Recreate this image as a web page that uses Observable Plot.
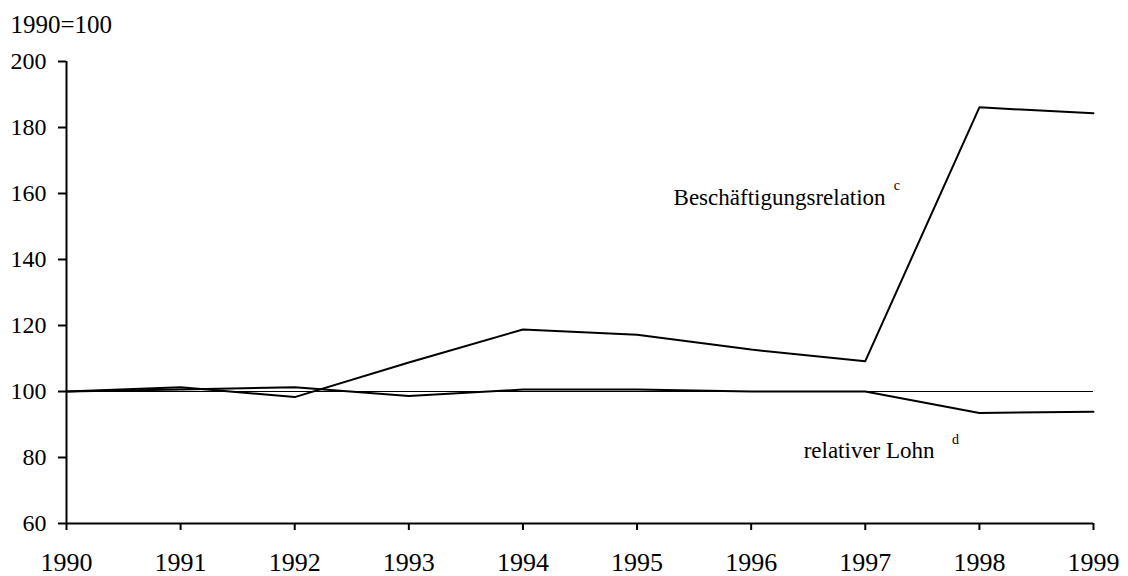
<!DOCTYPE html>
<html><head><meta charset="utf-8">
<script src="https://cdn.jsdelivr.net/npm/d3@7"></script>
<script src="https://cdn.jsdelivr.net/npm/@observablehq/plot@0.6"></script>
<style>body{margin:0;background:#fff;font-family:"Liberation Serif",serif}</style>
</head><body><div id="chart"></div>
<script>
const years = [1990,1991,1992,1993,1994,1995,1996,1997,1998,1999];
const beschaeftigung = [100,101.3,98.3,108.8,118.8,117.2,112.7,109.2,186.1,184.3];
const lohn = [100,100.6,101.3,98.6,100.6,100.6,100,100,93.5,93.9];
const yTicks = [60,80,100,120,140,160,180,200];
const seriesLabels = [
  {x:1995.32, y:156.4, text:"Beschäftigungsrelation"},
  {x:1996.46, y:79.7, text:"relativer Lohn"}
];
const superscripts = [
  {x:1997.25, y:161.2, text:"c"},
  {x:1997.76, y:84.2, text:"d"}
];
const unitLabel = ["1990=100"];
const FF = "Liberation Serif, Times New Roman, serif";
const rows = [];
years.forEach((yr,i)=>{rows.push({year:yr,v:beschaeftigung[i],s:"B"});rows.push({year:yr,v:lohn[i],s:"L"});});
const chart = Plot.plot({
  width:1128, height:576,
  marginLeft:66, marginRight:35, marginTop:61, marginBottom:53,
  style:{fontFamily:FF, fontSize:"24px", color:"#000", background:"#fff"},
  x:{domain:[1990,1999]},
  y:{domain:[60,200]},
  marks:[
    Plot.ruleY([100],{stroke:"#000",strokeWidth:1}),
    Plot.line(rows,{x:"year",y:"v",z:"s",stroke:"#000",strokeWidth:2}),
    Plot.axisY({ticks:yTicks,tickSize:8,tickPadding:12,label:null,fontSize:24,fontFamily:FF,strokeWidth:2}),
    Plot.axisX({ticks:years,tickFormat:d=>String(d),tickSize:7,tickPadding:22,label:null,fontSize:26,fontFamily:FF,strokeWidth:2}),
    Plot.ruleX([1990],{stroke:"#000",strokeWidth:2}),
    Plot.ruleY([60],{stroke:"#000",strokeWidth:2}),
    Plot.text(seriesLabels,{x:"x",y:"y",text:"text",fontSize:23,fontFamily:FF,textAnchor:"start",lineAnchor:"bottom",fill:"#000"}),
    Plot.text(superscripts,{x:"x",y:"y",text:"text",fontSize:14,fontFamily:FF,textAnchor:"start",lineAnchor:"bottom",fill:"#000"}),
    Plot.text(unitLabel,{frameAnchor:"top-left",dx:-56,dy:-29,textAnchor:"start",lineAnchor:"bottom",fontSize:25,fontFamily:FF,fill:"#000"})
  ]
});
document.getElementById("chart").appendChild(chart);
</script></body></html>
